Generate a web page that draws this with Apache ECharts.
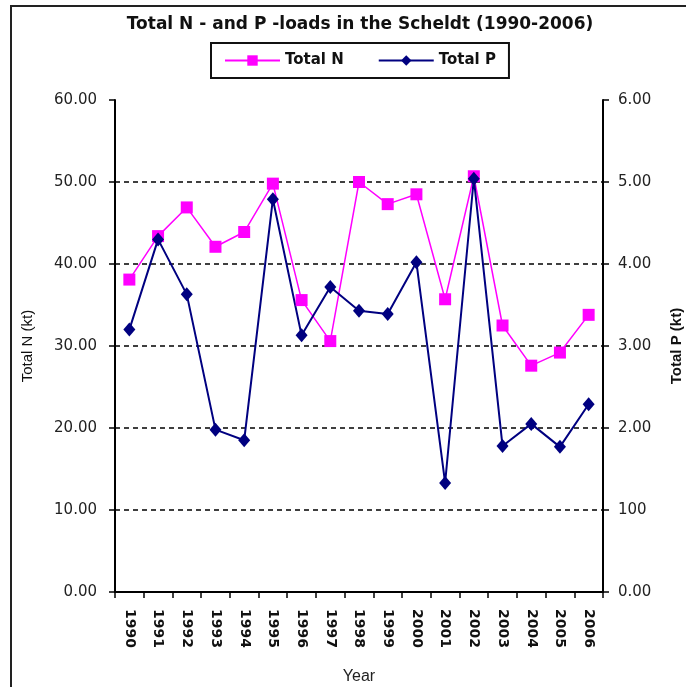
<!DOCTYPE html>
<html>
<head>
<meta charset="utf-8">
<script src="https://cdn.jsdelivr.net/npm/echarts@6/dist/echarts.min.js"></script>
<style>html,body{margin:0;padding:0;background:#fff;overflow:hidden;}#chart{width:686px;height:687px;}</style>
</head>
<body>
<div id="chart"></div>
<script>
const years = ['1990','1991','1992','1993','1994','1995','1996','1997','1998','1999','2000','2001','2002','2003','2004','2005','2006'];
const totalN = [38.1, 43.4, 46.9, 42.1, 43.9, 49.8, 35.6, 30.6, 50.0, 47.3, 48.5, 35.7, 50.7, 32.5, 27.6, 29.2, 33.8];
const totalP = [3.20, 4.30, 3.63, 1.98, 1.85, 4.79, 3.13, 3.72, 3.43, 3.39, 4.02, 1.33, 5.04, 1.78, 2.05, 1.77, 2.29];
const nTickLabels = ['0.00','10.00','20.00','30.00','40.00','50.00','60.00'];
const pTickLabels = ['0.00','100','2.00','3.00','4.00','5.00','6.00'];

const chart = echarts.init(document.getElementById('chart'), null, {renderer: 'canvas'});
const labelStyle = {fontFamily: 'DejaVu Sans', fontSize: 15, color: '#222'};
chart.setOption({
  animation: false,
  backgroundColor: '#fff',
  graphic: [{
    type: 'rect', shape: {x: 11, y: 6, width: 720, height: 720},
    style: {fill: 'none', stroke: '#222', lineWidth: 2}, silent: true
  }],
  title: {
    text: 'Total N - and P -loads in the Scheldt (1990-2006)',
    left: 355, top: 11, textAlign: 'center',
    textStyle: {fontFamily: 'DejaVu Sans', fontWeight: 'bold', fontSize: 17, color: '#111'}
  },
  legend: {
    left: 211, top: 43, width: 303,
    padding: [10, 13], itemGap: 34, itemWidth: 55, itemHeight: 13,
    borderColor: '#111', borderWidth: 2, backgroundColor: '#fff',
    textStyle: {fontFamily: 'DejaVu Sans', fontWeight: 'bold', fontSize: 15, color: '#111'},
    data: ['Total N', 'Total P']
  },
  grid: {left: 115, right: 83, top: 100, bottom: 95, containLabel: false, outerBoundsMode: 'none'},
  xAxis: {
    type: 'category', data: years, boundaryGap: true,
    name: 'Year', nameLocation: 'middle', nameGap: 77,
    nameTextStyle: {fontFamily: 'Liberation Sans', fontSize: 16, color: '#222'},
    axisLine: {lineStyle: {color: '#000', width: 2}},
    axisTick: {show: true, length: 6, alignWithLabel: false, lineStyle: {color: '#000', width: 1.5}},
    axisLabel: {rotate: -90, margin: 17, interval: 0, fontFamily: 'DejaVu Sans', fontWeight: 'bold', fontSize: 14, color: '#111'}
  },
  yAxis: [{
    type: 'value', min: 0, max: 60, interval: 10, position: 'left',
    name: 'Total N (kt)', nameLocation: 'middle', nameGap: 80, nameRotate: 90,
    nameTextStyle: {fontFamily: 'Liberation Sans', fontSize: 15, color: '#111'},
    axisLine: {show: true, lineStyle: {color: '#000', width: 2}},
    axisTick: {show: true, length: 6, lineStyle: {color: '#000', width: 1.5}},
    axisLabel: Object.assign({margin: 18, formatter: (v, i) => nTickLabels[i]}, labelStyle),
    splitLine: {show: true, lineStyle: {color: ['#000','#000','#000','#000','#000','#000','rgba(0,0,0,0)'], width: 1.5, type: [5, 4]}}
  }, {
    type: 'value', min: 0, max: 6, interval: 1, position: 'right',
    name: 'Total P (kt)', nameLocation: 'middle', nameGap: 66, nameRotate: 90,
    nameTextStyle: {fontFamily: 'Liberation Sans', fontWeight: 'bold', fontSize: 15, color: '#111'},
    axisLine: {show: true, lineStyle: {color: '#000', width: 2}},
    axisTick: {show: true, length: 6, lineStyle: {color: '#000', width: 1.5}},
    axisLabel: Object.assign({margin: 15, formatter: (v, i) => pTickLabels[i]}, labelStyle),
    splitLine: {show: false}
  }],
  series: [{
    name: 'Total N', type: 'line', yAxisIndex: 0, data: totalN,
    symbol: 'rect', symbolSize: 12,
    lineStyle: {color: '#FF00FF', width: 1.5},
    itemStyle: {color: '#FF00FF'}
  }, {
    name: 'Total P', type: 'line', yAxisIndex: 1, data: totalP,
    symbol: 'diamond', symbolSize: [12, 14],
    lineStyle: {color: '#000080', width: 2},
    itemStyle: {color: '#000080'}
  }]
});
</script>
</body>
</html>
